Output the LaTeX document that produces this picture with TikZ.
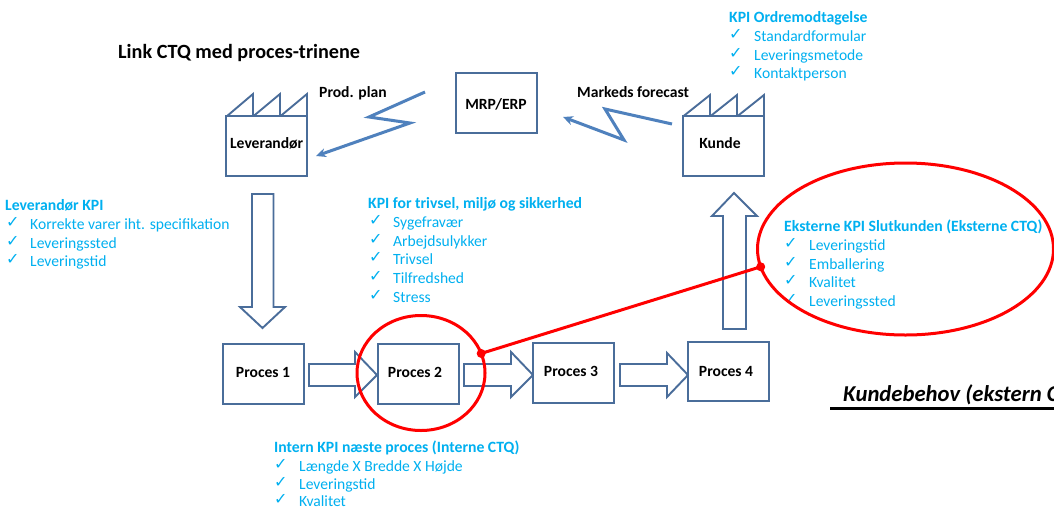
\documentclass[tikz,border=0pt]{standalone}
\usepackage{fontspec}
\setmainfont{Carlito}
\newfontfamily\dejavu{DejaVu Sans}
\usetikzlibrary{shapes.geometric,arrows.meta}
\definecolor{boxblue}{HTML}{4A6D9A}
\definecolor{zigblue}{HTML}{4F81BD}
\definecolor{kpiblue}{HTML}{00B0F0}
\tikzset{
  box/.style={draw=boxblue,line width=1.9pt,fill=white},
  procbox/.style={box,rectangle,minimum width=81pt,minimum height=60pt,inner sep=0pt,outer sep=0pt},
  blockarrow/.style={draw=boxblue,line width=1.9pt,fill=white,line join=miter},
  zig/.style={draw=zigblue,line width=3pt,line join=miter,-{Stealth[length=10pt,width=9pt]}},
  lab/.style={font=\fontsize{15.6}{18}\selectfont\bfseries,text=black,inner sep=0pt},
  head/.style={font=\fontsize{15.7}{18}\selectfont\bfseries,text=kpiblue,anchor=base west,inner sep=0pt},
  item/.style={font=\fontsize{15.6}{18}\selectfont,text=kpiblue,anchor=base west,inner sep=0pt},
  chk/.style={font=\dejavu\bfseries\fontsize{16}{18}\selectfont,text=kpiblue,anchor=base west,inner sep=0pt},
  redring/.style={draw=red,line width=3pt,ellipse,inner sep=0pt,outer sep=0pt},
  reddot/.style={circle,fill=red,inner sep=0pt,minimum size=9pt}
}
\newcommand{\kpiitem}[5]{% name, check x, text x, baseline y, text
  \node[chk] (#1c) at (#2,#4-2) {✓};
  \node[item] (#1) at (#3,#4) {#5};
}
\begin{document}
\begin{tikzpicture}[x=1pt,y=-1pt]
\useasboundingbox (0,0) rectangle (1054,509);
\fill[white] (0,0) rectangle (1054,509);

\node[font=\fontsize{20.2}{22}\selectfont\bfseries,anchor=base west,inner sep=0pt] (title) at (118,58) {Link CTQ med proces-trinene};

% factories
\draw[box,fill=none] (226.5,116.5) -- (253,94) -- (253,116.5) -- (280,94) -- (280,116.5) -- (307,94) -- (307,116.5);
\node[procbox] (lev) at (266.7,146.3) {};
\node[lab] (levt) at (266.7,143) {Leverandør};
\draw[box,fill=none] (683,116.5) -- (710,95) -- (710,116.5) -- (737,95) -- (737,116.5) -- (764,95) -- (764,116.5);
\node[procbox] (kunde) at (723.5,146.3) {};
\node[lab] (kundet) at (720,143) {Kunde};

\node[procbox] (mrp) at (496.5,103) {};
\node[lab] (mrpt) at (496,104) {MRP/ERP};

% zigzags
\coordinate (z1s) at (425,92); \coordinate (z1a) at (369,117); \coordinate (z1b) at (410,123); \coordinate (z1e) at (316,156);
\draw[zig] (z1s) -- (z1a) -- (z1b) -- (z1e);
\coordinate (z2s) at (672,124); \coordinate (z2a) at (605,109); \coordinate (z2b) at (624,140); \coordinate (z2e) at (563,117);
\draw[zig] (z2s) -- (z2a) -- (z2b) -- (z2e);
\node[lab,anchor=base west] (pp) at (319,97) {Prod. plan};
\node[lab,anchor=base west] (mf) at (577,97) {Markeds forecast};

% block arrows
\draw[blockarrow] (252,194) -- (273.5,194) -- (273.5,307) -- (285,307) -- (262.5,328) -- (240,307) -- (252,307) -- cycle;
\draw[blockarrow] (723,329) -- (746,329) -- (746,216) -- (757,216) -- (734,193) -- (712,216) -- (723,216) -- cycle;
\draw[blockarrow] (309,364) -- (355,364) -- (355,352) -- (377,375) -- (355,397) -- (355,386) -- (309,386) -- cycle;
\draw[blockarrow] (464,364) -- (511,364) -- (511,352) -- (533,375) -- (511,397) -- (511,386) -- (464,386) -- cycle;
\draw[blockarrow] (620,364) -- (667,364) -- (667,353) -- (688,375) -- (667,397) -- (667,386) -- (620,386) -- cycle;

% process boxes
\node[procbox] (p1) at (263.5,374) {};
\node[procbox] (p2) at (418.5,374) {};
\node[procbox] (p3) at (573.5,373) {};
\node[procbox,minimum height=59pt] (p4) at (728.5,371.5) {};
\node[lab] (p1t) at (263,372) {Proces 1};
\node[lab] (p2t) at (415,372) {Proces 2};
\node[lab] (p3t) at (571,371) {Proces 3};
\node[lab] (p4t) at (726,371) {Proces 4};

% KPI lists
\node[head] (h1) at (5,210) {Leverandør KPI};
\kpiitem{a1}{6}{30}{229}{Korrekte varer iht. specifikation}
\kpiitem{a2}{6}{30}{248}{Leveringssted}
\kpiitem{a3}{6}{30}{266}{Leveringstid}

\node[head] (h2) at (729,22) {KPI Ordremodtagelse};
\kpiitem{b1}{729}{754}{41}{Standardformular}
\kpiitem{b2}{729}{754}{60}{Leveringsmetode}
\kpiitem{b3}{729}{754}{78}{Kontaktperson}

\node[head] (h3) at (368,208) {KPI for trivsel, miljø og sikkerhed};
\kpiitem{c1}{369}{393}{227}{Sygefravær}
\kpiitem{c2}{369}{393}{246}{Arbejdsulykker}
\kpiitem{c3}{369}{393}{264}{Trivsel}
\kpiitem{c4}{369}{393}{283}{Tilfredshed}
\kpiitem{c5}{369}{393}{302}{Stress}

\node[head] (h4) at (274,452) {Intern KPI næste proces (Interne CTQ)};
\kpiitem{d1}{274}{299}{471}{Længde X Bredde X Højde}
\kpiitem{d2}{274}{299}{489}{Leveringstid}
\kpiitem{d3}{274}{299}{506}{Kvalitet}

\node[head] (h5) at (784,231) {Eksterne KPI Slutkunden (Eksterne CTQ)};
\kpiitem{e1}{784}{809}{250}{Leveringstid}
\kpiitem{e2}{784}{809}{269}{Emballering}
\kpiitem{e3}{784}{809}{287}{Kvalitet}
\kpiitem{e4}{784}{809}{306}{Leveringssted}

% red rings
\node[redring,minimum width=128pt,minimum height=115pt] (ring) at (421,373) {};
\begin{scope}
\clip (0,0) rectangle (1054,509);
\node[redring,minimum width=296pt,minimum height=172pt] (oval) at (905.5,249) {};
\node[font=\fontsize{22.7}{26}\selectfont\bfseries\itshape,anchor=base west,inner sep=0pt] (kb) at (843,401) {Kundebehov (ekstern C};
\coordinate (ulS) at (830,408.5); \coordinate (ulE) at (1054,408.5);
\draw[black,line width=2.5pt] (ulS) -- (ulE);
\end{scope}
\draw[red,line width=3pt] (ring.18) -- (oval.187);
\node[reddot] (dota) at (ring.18) {};
\node[reddot] (dotb) at (oval.187) {};
\end{tikzpicture}
\end{document}
